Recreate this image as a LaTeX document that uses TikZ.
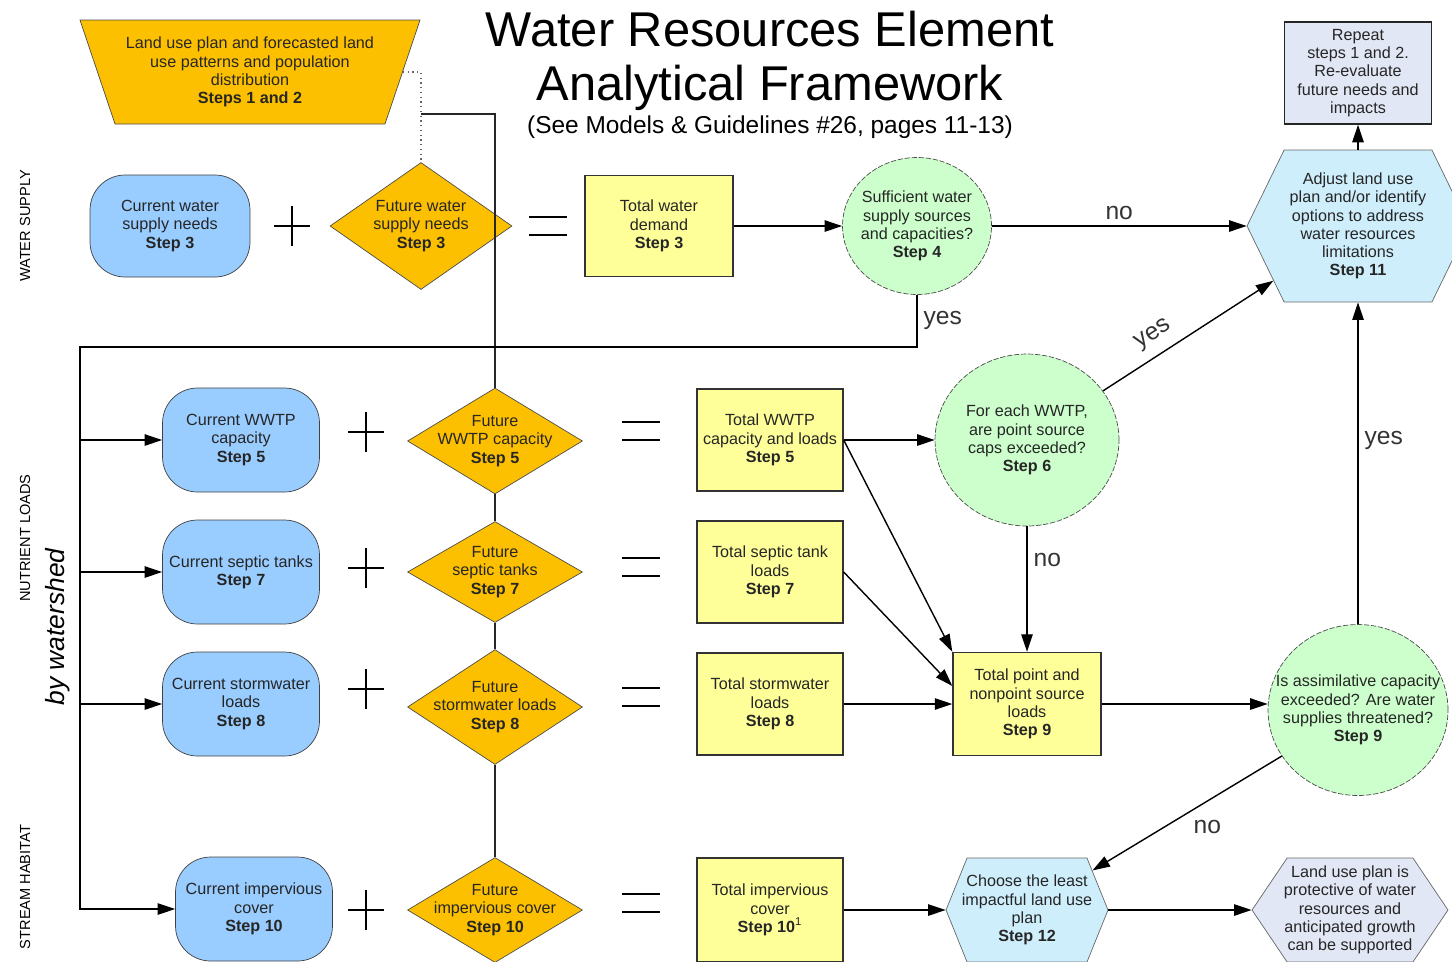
\documentclass[tikz,border=0pt]{standalone}
\usepackage{fontspec}
\setmainfont{Liberation Sans}
\usetikzlibrary{arrows.meta,shapes.geometric,shapes.symbols}
\definecolor{gold}{RGB}{252,192,0}
\definecolor{nowblue}{RGB}{153,204,255}
\definecolor{totyel}{RGB}{255,255,153}
\definecolor{askgrn}{RGB}{204,255,204}
\definecolor{acthex}{RGB}{206,238,252}
\definecolor{endlav}{RGB}{226,231,245}
\tikzset{
  txt/.style={font=\fontsize{9.2}{10.4}\selectfont,align=center,inner sep=0pt,text=black!85},
  now/.style={txt,draw=black!75,fill=nowblue,rounded corners=0.7cm,minimum width=3.14cm,minimum height=2.08cm},
  tot/.style={txt,draw=black!80,fill=totyel,line width=0.8pt,minimum width=2.92cm,minimum height=2.04cm},
  fut/.style={diamond,draw=black!70,fill=gold,inner sep=0pt,minimum width=3.5cm},
  ask/.style={ellipse,draw=black!70,dash pattern=on 3pt off 1pt,fill=askgrn,inner sep=0pt},
  act/.style={signal,signal to=west and east,draw=black!60,fill=acthex,inner sep=0pt},
  link/.style={draw=black,line width=0.8pt,-{Triangle[length=10pt,width=6.5pt]}},
  bar/.style={draw=black!85,line width=0.75pt},
  sym/.style={draw=black,line width=0.6pt},
  ans/.style={font=\fontsize{14}{16}\selectfont,text=black!80},
  side/.style={font=\fontsize{8.3}{9}\selectfont,rotate=90},
  plus/.pic={\draw[sym] (-18,0) -- (18,0) (0,-20) -- (0,20);},
  same/.pic={\draw[sym] (-19,-9) -- (19,-9) (-19,9) -- (19,9);},
}
\begin{document}
\begin{tikzpicture}[x=0.02cm,y=-0.02cm]
  \useasboundingbox (0,0) rectangle (1452,961);
  % titles and row labels
  \node[font=\fontsize{27.8}{30.6}\selectfont,align=center] (title) at (770,61) {Water Resources Element\\Analytical Framework};
  \node[font=\fontsize{13.9}{16}\selectfont] (see) at (770,127) {(See Models \& Guidelines \#26, pages 11-13)};
  \node[side] (lws) at (25,226) {WATER SUPPLY};
  \node[side] (lnl) at (25,538) {NUTRIENT LOADS};
  \node[side,font=\fontsize{15}{17}\selectfont\itshape] (lbw) at (58,627) {by watershed};
  \node[side] (lsh) at (25,887) {STREAM HABITAT};

  % land use plan
  \draw[draw=black!70,fill=gold] (80,20) -- (420,20) -- (385,124) -- (115,124) -- cycle;
  \node[txt] (plan) at (250,72) {Land use plan and forecasted land\\use patterns and population\\distribution\\\textbf{Steps 1 and 2}};
  \coordinate (planR) at (403,72);
  \coordinate (tap) at (421,114);

  % water supply
  \node[now,minimum width=3.2cm,minimum height=2.04cm] (cw) at (170,226) {Current water\\supply needs\\\textbf{Step 3}};
  \pic at (292,226) {plus};
  \node[fut,minimum width=3.64cm,minimum height=2.54cm] (fw) at (421,226) {};
  \node[txt] (fw-t) at (fw) {Future water\\supply needs\\\textbf{Step 3}};
  \pic at (548,226) {same};
  \node[tot,minimum width=2.96cm,minimum height=2.02cm] (tw) at (659,226) {Total water\\demand\\\textbf{Step 3}};
  \node[ask,minimum width=2.98cm,minimum height=2.74cm] (c4) at (917,226) {};
  \node[txt] (c4-t) at (c4) {Sufficient water\\supply sources\\and capacities?\\\textbf{Step 4}};
  \node[act,minimum width=4.44cm,minimum height=3.04cm,signal pointer angle=128] (h11) at (1358,226) {};
  \node[txt] (h11-t) at (h11) {Adjust land use\\plan and/or identify\\options to address\\water resources\\limitations\\\textbf{Step 11}};
  \node[txt,draw=black!85,fill=endlav,line width=0.8pt,minimum width=2.94cm,minimum height=2.04cm] (rep) at (1358,73) {Repeat\\steps 1 and 2.\\Re-evaluate\\future needs and\\impacts};

  % nutrient loads
  \node[now] (cwwtp) at (241,440) {Current WWTP\\capacity\\\textbf{Step 5}};
  \pic at (366,432) {plus};
  \node[fut,minimum height=2.12cm] (fwwtp) at (495,441) {};
  \node[txt] (fwwtp-t) at (fwwtp) {Future\\WWTP capacity\\\textbf{Step 5}};
  \pic at (641,431) {same};
  \node[tot] (twwtp) at (770,440) {Total WWTP\\capacity and loads\\\textbf{Step 5}};
  \node[ask,minimum width=3.68cm,minimum height=3.44cm] (c6) at (1027,440) {};
  \node[txt] (c6-t) at (c6) {For each WWTP,\\are point source\\caps exceeded?\\\textbf{Step 6}};

  \node[now] (csep) at (241,572) {Current septic tanks\\\textbf{Step 7}};
  \pic at (366,568) {plus};
  \node[fut,minimum height=2.02cm] (fsep) at (495,572) {};
  \node[txt] (fsep-t) at (fsep) {Future\\septic tanks\\\textbf{Step 7}};
  \pic at (641,567) {same};
  \node[tot] (tsep) at (770,572) {Total septic tank\\loads\\\textbf{Step 7}};

  \node[now] (cstorm) at (241,704) {Current stormwater\\loads\\\textbf{Step 8}};
  \pic at (366,689) {plus};
  \node[fut,minimum height=2.3cm] (fstorm) at (495,707) {};
  \node[txt] (fstorm-t) at (fstorm) {Future\\stormwater loads\\\textbf{Step 8}};
  \pic at (641,697) {same};
  \node[tot] (tstorm) at (770,704) {Total stormwater\\loads\\\textbf{Step 8}};
  \node[tot,minimum width=2.96cm,minimum height=2.06cm] (t9) at (1027,704) {Total point and\\nonpoint source\\loads\\\textbf{Step 9}};
  \node[ask,minimum width=3.6cm,minimum height=3.42cm] (c9) at (1358,710) {};
  \node[txt] (c9-t) at (c9) {Is assimilative capacity\\exceeded? Are water\\supplies threatened?\\\textbf{Step 9}};

  % stream habitat
  \node[now] (cimp) at (254,909) {Current impervious\\cover\\\textbf{Step 10}};
  \pic at (366,910) {plus};
  \node[fut,minimum height=2.1cm] (fimp) at (495,910) {};
  \node[txt] (fimp-t) at (fimp) {Future\\impervious cover\\\textbf{Step 10}};
  \pic at (641,903) {same};
  \node[tot,minimum height=2.08cm] (timp) at (770,910) {Total impervious\\cover\\\textbf{Step 10}\textsuperscript{1}};
  \node[act,minimum width=3.24cm,minimum height=2.08cm,signal pointer angle=136] (h12) at (1027,910) {};
  \node[txt] (h12-t) at (h12) {Choose the least\\impactful land use\\plan\\\textbf{Step 12}};
  \node[act,fill=endlav,minimum width=3.92cm,minimum height=2.08cm,signal pointer angle=112] (hend) at (1350,910) {};
  \node[txt] (hend-t) at (hend) {Land use plan is\\protective of water\\resources and\\anticipated growth\\can be supported};

  % connectors
  \draw[dotted,draw=black!60,line width=0.7pt] (planR) -| (fw.north);
  \draw[bar] (tap) -| (fwwtp.north);
  \draw[bar] (fwwtp.south) -- (fsep.north) (fsep.south) -- (fstorm.north) (fstorm.south) -- (fimp.north);
  \draw[link] (tw) -- (c4);
  \draw[link] (c4) -- node[ans,above] (no1) {no} (h11);
  \draw[link] (h11.north) -- (rep.south);
  \coordinate (bus) at (80,347);
  \draw[link] (c4.south) |- node[ans,right,pos=0.25] (yes1) {yes} (bus) |- (cimp.west);
  \draw[link] (bus |- cwwtp.west) -- (cwwtp.west);
  \draw[link] (bus |- csep.west) -- (csep.west);
  \draw[link] (bus |- cstorm.west) -- (cstorm.west);
  \draw[link] (twwtp) -- (c6);
  \draw[link] (twwtp.east) -- (t9.north west);
  \draw[link] (tsep.east) -- ([yshift=0.36cm]t9.west);
  \draw[link] (tstorm) -- (t9);
  \draw[link] (c6) -- node[ans,above=2pt,sloped,pos=0.36] (yes2) {yes} (h11);
  \draw[link] (c6) -- node[ans,right,pos=0.27] (no2) {no} (t9);
  \draw[link] (t9) -- (t9 -| c9.west);
  \draw[link] (c9) -- node[ans,right,pos=0.57] (yes3) {yes} (h11);
  \draw[link] (c9) -- node[ans,pos=0.5,anchor=north west] (no3) {no} (h12);
  \draw[link] (timp) -- (h12);
  \draw[link] (h12) -- (hend);
\end{tikzpicture}
\end{document}
